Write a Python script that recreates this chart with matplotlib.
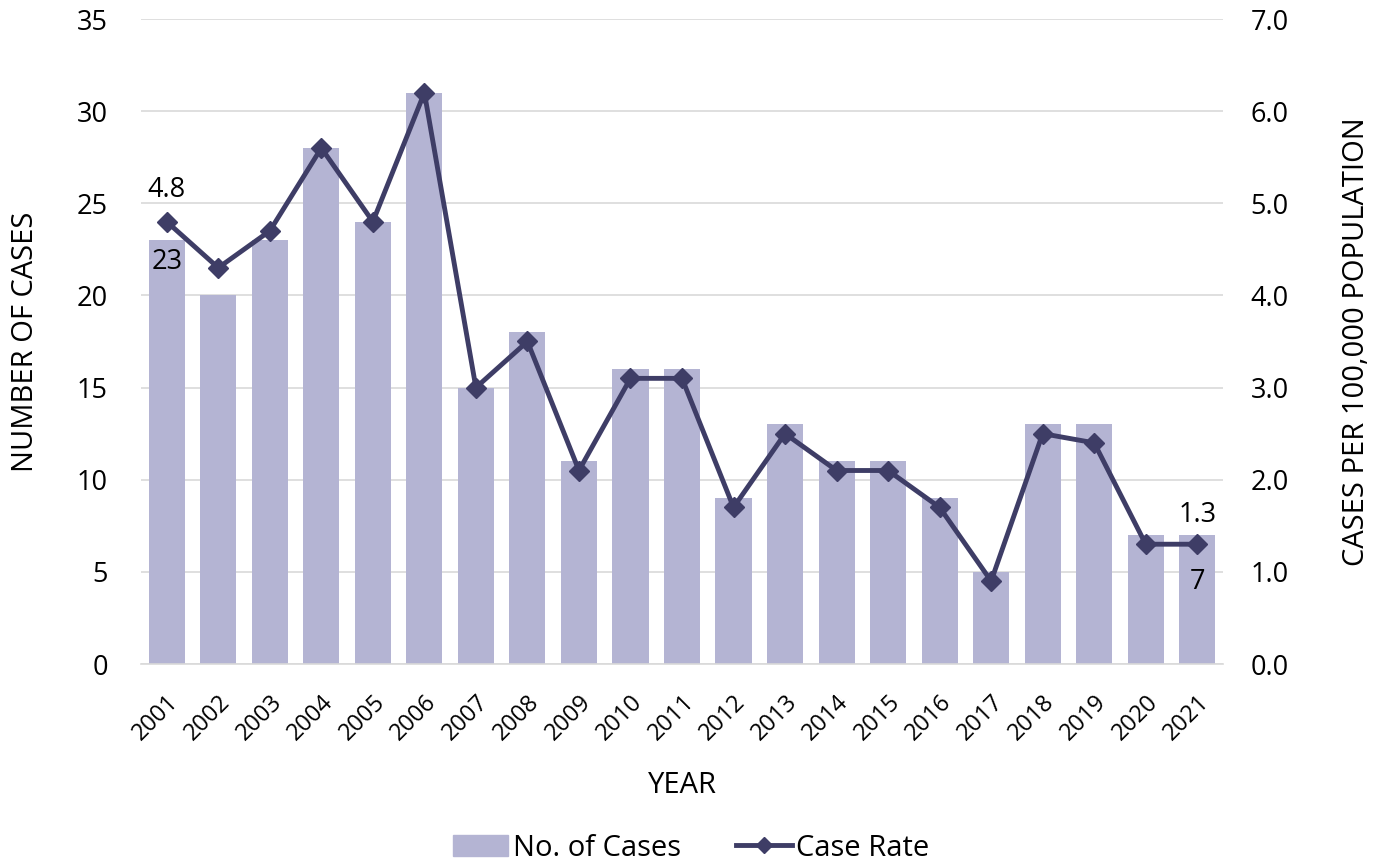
import matplotlib
matplotlib.use("Agg")
import matplotlib.pyplot as plt
from matplotlib.lines import Line2D
from matplotlib.patches import Patch

years = [str(y) for y in range(2001, 2022)]
cases = [23, 20, 23, 28, 24, 31, 15, 18, 11, 16, 16, 9, 13, 11, 11, 9, 5, 13, 13, 7, 7]
rates = [4.8, 4.3, 4.7, 5.6, 4.8, 6.2, 3.0, 3.5, 2.1, 3.1, 3.1, 1.7, 2.5, 2.1, 2.1, 1.7, 0.9, 2.5, 2.4, 1.3, 1.3]

plt.rcParams['font.family'] = ['Open Sans', 'DejaVu Sans']
bar_color = '#b4b4d3'
line_color = '#3e3d66'
fs = 19.5
lfs = 21

fig = plt.figure(figsize=(13.82, 8.63), dpi=100)
ax = fig.add_axes([141/1382, 1-664/863, (1223-141)/1382, (664-19)/863])
x = list(range(len(years)))
ax.bar(x, cases, width=0.7, color=bar_color, zorder=2)
ax.set_xlim(-0.5, len(years)-0.5)
ax.set_ylim(0, 35)
ax.set_yticks(range(0, 36, 5))
ax.grid(axis='y', color='#d9d9d9', linewidth=1.2, zorder=0)
for s in ['top', 'right', 'left']:
    ax.spines[s].set_visible(False)
ax.spines['bottom'].set_color('#d9d9d9')
ax.spines['bottom'].set_linewidth(1.2)
ax.tick_params(axis='both', length=0, labelsize=fs, colors='black')
ax.tick_params(axis='y', pad=24)
ax.tick_params(axis='x', pad=19)
ax.set_xticks(x)
ax.set_xticklabels(years, rotation=45, ha='right', rotation_mode='anchor', fontsize=17)
ax.set_xlabel('YEAR', fontsize=lfs, labelpad=18)
ax.set_ylabel('NUMBER OF CASES', fontsize=lfs, labelpad=26)

ax2 = ax.twinx()
ax2.plot(x, rates, color=line_color, linewidth=3.5, marker='D', markersize=10, zorder=3)
ax2.set_ylim(0, 7)
ax2.set_yticks([i for i in range(8)])
ax2.set_yticklabels([f'{i:.1f}' for i in range(8)])
for s in ['top', 'right', 'left', 'bottom']:
    ax2.spines[s].set_visible(False)
ax2.tick_params(axis='y', length=0, labelsize=fs, pad=20)
ax2.set_ylabel('CASES PER 100,000 POPULATION', fontsize=lfs, labelpad=38)

# data labels
ax2.annotate(f'{rates[0]}', (x[0], rates[0]), xytext=(0, 23), textcoords='offset points',
             ha='center', va='center', fontsize=fs)
ax2.annotate(f'{cases[0]}', (x[0], cases[0]), xycoords=ax.transData, xytext=(0, -16),
             textcoords='offset points', ha='center', va='center', fontsize=fs)
ax2.annotate(f'{rates[-1]}', (x[-1], rates[-1]), xytext=(0, 21), textcoords='offset points',
             ha='center', va='center', fontsize=fs)
ax2.annotate(f'{cases[-1]}', (x[-1], cases[-1]), xycoords=ax.transData, xytext=(0, -34),
             textcoords='offset points', ha='center', va='center', fontsize=fs)

handles = [Patch(color=bar_color, label='No. of Cases'),
           Line2D([0], [0], color=line_color, linewidth=3.5, marker='D', markersize=8, label='Case Rate')]
fig.legend(handles=handles, loc='lower center', bbox_to_anchor=(0.5, -0.03), ncol=2, frameon=False,
           fontsize=lfs, handlelength=1.9, handletextpad=0.15, columnspacing=1.9)

fig.savefig('out.png', dpi=100)
